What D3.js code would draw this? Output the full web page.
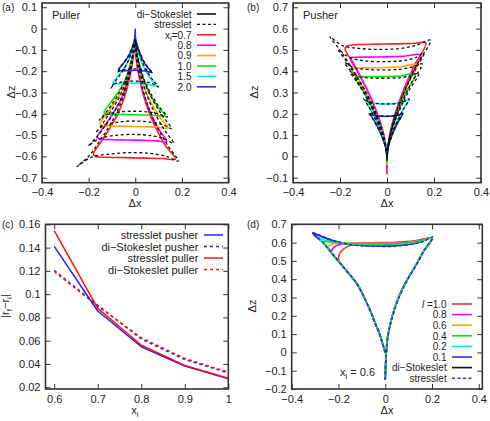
<!DOCTYPE html>
<html><head><meta charset="utf-8">
<script src="https://cdn.jsdelivr.net/npm/d3@7"></script>
<style>body{margin:0;background:#fff} svg{display:block} text{font-family:"Liberation Sans",Arial,Helvetica,sans-serif;fill:#222}</style>
</head><body><svg id="c" width="490" height="421"></svg>
<script>
// ---------- tick values / labels ----------
const xTicksTraj = [-0.4,-0.2,0,0.2,0.4];
const xTickLabelsTraj = ["\u22120.4","\u22120.2","0","0.2","0.4"];
const aYTicks = [0.1,0,-0.1,-0.2,-0.3,-0.4,-0.5,-0.6,-0.7];
const aYTickLabels = ["0.1","0","\u22120.1","\u22120.2","\u22120.3","\u22120.4","\u22120.5","\u22120.6","\u22120.7"];
const bYTicks = [0.7,0.6,0.5,0.4,0.3,0.2,0.1,0,-0.1];
const bYTickLabels = ["0.7","0.6","0.5","0.4","0.3","0.2","0.1","0","\u22120.1"];
const cXTicks = [0.6,0.7,0.8,0.9,1.0];
const cXTickLabels = ["0.6","0.7","0.8","0.9","1"];
const cYTicks = [0.02,0.04,0.06,0.08,0.1,0.12,0.14,0.16];
const cYTickLabels = ["0.02","0.04","0.06","0.08","0.1","0.12","0.14","0.16"];
const dYTicks = [0.7,0.6,0.5,0.4,0.3,0.2,0.1,0,-0.1,-0.2];
const dYTickLabels = ["0.7","0.6","0.5","0.4","0.3","0.2","0.1","0","\u22120.1","\u22120.2"];

// ---------- categories ----------
const xiLabels = ["0.7","0.8","0.9","1.0","1.5","2.0"];
const xiColors = ["#ff2020","#ff00ff","#ffa500","#10e010","#00eeee","#2a2aff"];
const lLabels = ["1.0","0.8","0.6","0.4","0.2","0.1"];
const lColors = ["#ff3030","#ff00ff","#ffa500","#10e010","#00eeee","#2a2aff"];

// ---------- panel (a): puller trajectories [dx, dz] ----------
const aSolid = [
 [[0,-0.04],[-0.002,-0.07],[-0.008,-0.13],[-0.02,-0.21],[-0.04,-0.30],[-0.07,-0.39],[-0.105,-0.46],[-0.14,-0.52],[-0.168,-0.565],[-0.18,-0.588],[-0.17,-0.6],[-0.12,-0.604],[-0.04,-0.606],[0.05,-0.608],[0.12,-0.61],[0.172,-0.613],[0.13,-0.55],[0.09,-0.47],[0.058,-0.39],[0.032,-0.30],[0.014,-0.21],[0.004,-0.14],[0,-0.088]],
 [[0,-0.04],[-0.002,-0.065],[-0.007,-0.112],[-0.018,-0.181],[-0.036,-0.259],[-0.063,-0.337],[-0.095,-0.397],[-0.127,-0.449],[-0.152,-0.488],[-0.163,-0.507],[-0.154,-0.518],[-0.109,-0.521],[-0.036,-0.523],[0.04,-0.525],[0.094,-0.527],[0.135,-0.53],[0.102,-0.475],[0.071,-0.41],[0.046,-0.34],[0.025,-0.265],[0.011,-0.19],[0.003,-0.12],[0,-0.056]],
 [[0,-0.04],[-0.002,-0.06],[-0.007,-0.098],[-0.017,-0.159],[-0.034,-0.227],[-0.059,-0.295],[-0.089,-0.348],[-0.118,-0.394],[-0.142,-0.428],[-0.152,-0.445],[-0.144,-0.454],[-0.1,-0.457],[-0.03,-0.459],[0.04,-0.461],[0.1,-0.463],[0.14,-0.466],[0.106,-0.418],[0.074,-0.36],[0.047,-0.3],[0.026,-0.232],[0.011,-0.165],[0.003,-0.105],[0,-0.045]],
 [[0,-0.04],[-0.001,-0.055],[-0.006,-0.087],[-0.015,-0.14],[-0.03,-0.2],[-0.052,-0.26],[-0.078,-0.306],[-0.104,-0.346],[-0.125,-0.376],[-0.134,-0.392],[-0.127,-0.4],[-0.09,-0.402],[-0.03,-0.404],[0.04,-0.406],[0.09,-0.408],[0.128,-0.41],[0.097,-0.368],[0.068,-0.318],[0.043,-0.262],[0.024,-0.2],[0.01,-0.14],[0.003,-0.085],[0,-0.045]],
 [[0,-0.03],[-0.001,-0.045],[-0.004,-0.065],[-0.011,-0.095],[-0.021,-0.129],[-0.037,-0.168],[-0.056,-0.198],[-0.074,-0.224],[-0.089,-0.243],[-0.095,-0.253],[-0.09,-0.258],[-0.05,-0.257],[0,-0.256],[0.05,-0.26],[0.092,-0.27],[0.07,-0.24],[0.048,-0.205],[0.03,-0.165],[0.016,-0.12],[0.007,-0.08],[0.002,-0.05],[0,-0.035]],
 [[0,0],[-0.001,-0.03],[-0.003,-0.05],[-0.008,-0.072],[-0.016,-0.098],[-0.028,-0.128],[-0.042,-0.151],[-0.056,-0.17],[-0.067,-0.185],[-0.072,-0.193],[-0.068,-0.197],[-0.03,-0.197],[0,-0.196],[0.04,-0.199],[0.07,-0.205],[0.053,-0.183],[0.036,-0.156],[0.023,-0.125],[0.012,-0.091],[0.005,-0.065],[0.001,-0.045],[0,-0.01]]
];
const aDashed = [
 [[0,-0.05],[-0.003,-0.08],[-0.009,-0.13],[-0.022,-0.21],[-0.045,-0.30],[-0.078,-0.39],[-0.118,-0.47],[-0.16,-0.54],[-0.2,-0.6],[-0.25,-0.648],[-0.19,-0.605],[-0.1,-0.588],[0,-0.582],[0.08,-0.588],[0.14,-0.602],[0.185,-0.622],[0.14,-0.55],[0.098,-0.47],[0.064,-0.39],[0.036,-0.30],[0.016,-0.21],[0.005,-0.14],[0,-0.09]],
 [[0,-0.05],[-0.003,-0.075],[-0.008,-0.11],[-0.019,-0.18],[-0.038,-0.26],[-0.066,-0.34],[-0.1,-0.41],[-0.135,-0.465],[-0.17,-0.515],[-0.201,-0.551],[-0.16,-0.52],[-0.09,-0.502],[0,-0.497],[0.07,-0.503],[0.125,-0.518],[0.164,-0.538],[0.125,-0.475],[0.088,-0.405],[0.056,-0.33],[0.031,-0.25],[0.013,-0.17],[0.004,-0.11],[0,-0.062]],
 [[0,-0.05],[-0.003,-0.07],[-0.007,-0.1],[-0.017,-0.16],[-0.034,-0.23],[-0.058,-0.3],[-0.088,-0.36],[-0.118,-0.41],[-0.145,-0.455],[-0.17,-0.49],[-0.14,-0.458],[-0.08,-0.44],[0,-0.434],[0.07,-0.44],[0.12,-0.452],[0.157,-0.47],[0.12,-0.415],[0.085,-0.355],[0.054,-0.29],[0.03,-0.22],[0.013,-0.15],[0.004,-0.095],[0,-0.055]],
 [[0,-0.05],[-0.002,-0.065],[-0.006,-0.09],[-0.015,-0.145],[-0.03,-0.205],[-0.052,-0.265],[-0.078,-0.318],[-0.106,-0.365],[-0.132,-0.402],[-0.155,-0.43],[-0.125,-0.405],[-0.07,-0.392],[0,-0.388],[0.06,-0.392],[0.105,-0.402],[0.138,-0.415],[0.105,-0.37],[0.073,-0.318],[0.046,-0.26],[0.025,-0.195],[0.011,-0.135],[0.003,-0.08],[0,-0.055]],
 [[0,-0.05],[-0.002,-0.06],[-0.005,-0.07],[-0.011,-0.095],[-0.022,-0.13],[-0.038,-0.17],[-0.057,-0.205],[-0.077,-0.235],[-0.092,-0.258],[-0.105,-0.28],[-0.085,-0.258],[-0.045,-0.249],[0,-0.247],[0.045,-0.25],[0.075,-0.259],[0.1,-0.274],[0.077,-0.243],[0.053,-0.205],[0.033,-0.163],[0.018,-0.12],[0.008,-0.085],[0.002,-0.065],[0,-0.055]],
 [[0,-0.05],[-0.002,-0.058],[-0.004,-0.065],[-0.009,-0.075],[-0.017,-0.098],[-0.03,-0.128],[-0.045,-0.153],[-0.06,-0.175],[-0.07,-0.192],[-0.078,-0.205],[-0.06,-0.195],[-0.03,-0.19],[0,-0.189],[0.035,-0.192],[0.058,-0.198],[0.075,-0.208],[0.057,-0.185],[0.039,-0.157],[0.024,-0.125],[0.013,-0.095],[0.005,-0.075],[0.001,-0.062],[0,-0.055]]
];

// ---------- panel (b): pusher trajectories ----------
const bSolid = [
 [[0,0],[-0.0135,0.1],[-0.041,0.2],[-0.079,0.3],[-0.125,0.4],[-0.15,0.45],[-0.176,0.495],[-0.178,0.51],[-0.165,0.52],[-0.12,0.525],[-0.04,0.527],[0.04,0.528],[0.11,0.53],[0.165,0.532],[0.116,0.426],[0.073,0.319],[0.038,0.213],[0.0125,0.106],[0,0],[0,-0.085]],
 [[0,0],[-0.012,0.092],[-0.036,0.183],[-0.069,0.275],[-0.11,0.366],[-0.133,0.412],[-0.155,0.452],[-0.156,0.462],[-0.14,0.465],[-0.07,0.466],[0,0.467],[0.07,0.47],[0.143,0.476],[0.1,0.381],[0.063,0.286],[0.033,0.19],[0.011,0.095],[0,0],[0,-0.055]],
 [[0,0],[-0.011,0.082],[-0.035,0.164],[-0.066,0.246],[-0.105,0.328],[-0.127,0.369],[-0.148,0.405],[-0.147,0.413],[-0.13,0.415],[-0.06,0.416],[0,0.417],[0.06,0.421],[0.128,0.43],[0.09,0.344],[0.057,0.258],[0.03,0.172],[0.01,0.086],[0,0],[0,-0.04]],
 [[0,0],[-0.01,0.074],[-0.031,0.147],[-0.06,0.221],[-0.095,0.294],[-0.115,0.331],[-0.134,0.364],[-0.133,0.372],[-0.115,0.374],[-0.05,0.374],[0,0.375],[0.06,0.378],[0.121,0.387],[0.085,0.31],[0.053,0.232],[0.028,0.155],[0.009,0.077],[0,0],[0,-0.03]],
 [[0,0],[-0.007,0.053],[-0.021,0.106],[-0.041,0.159],[-0.065,0.212],[-0.079,0.238],[-0.093,0.265],[-0.075,0.254],[-0.035,0.247],[0,0.246],[0.04,0.249],[0.07,0.256],[0.093,0.267],[0.065,0.214],[0.041,0.16],[0.021,0.107],[0.007,0.053],[0,0],[0,-0.012]],
 [[0,0],[-0.0055,0.04],[-0.017,0.08],[-0.032,0.12],[-0.05,0.16],[-0.061,0.18],[-0.072,0.2],[-0.055,0.193],[-0.025,0.189],[0,0.188],[0.03,0.19],[0.05,0.194],[0.066,0.2],[0.046,0.16],[0.029,0.12],[0.015,0.08],[0.005,0.04],[0,0],[0,-0.006]]
];
const bDashed = [
 [[0,0],[-0.018,0.112],[-0.056,0.225],[-0.107,0.337],[-0.17,0.45],[-0.205,0.506],[-0.243,0.562],[-0.19,0.52],[-0.12,0.507],[-0.04,0.502],[0.05,0.506],[0.12,0.52],[0.185,0.545],[0.13,0.436],[0.082,0.327],[0.043,0.218],[0.014,0.109],[0,0.01],[0,-0.02]],
 [[0,0],[-0.016,0.1],[-0.048,0.2],[-0.091,0.3],[-0.145,0.4],[-0.175,0.45],[-0.207,0.5],[-0.16,0.465],[-0.1,0.449],[0,0.445],[0.07,0.45],[0.12,0.463],[0.157,0.484],[0.11,0.387],[0.069,0.29],[0.036,0.194],[0.012,0.097],[0,0.01],[0,-0.02]],
 [[0,0],[-0.014,0.088],[-0.042,0.176],[-0.08,0.264],[-0.126,0.352],[-0.152,0.396],[-0.18,0.44],[-0.14,0.416],[-0.08,0.408],[0,0.406],[0.06,0.41],[0.11,0.42],[0.15,0.434],[0.105,0.347],[0.066,0.26],[0.035,0.174],[0.011,0.087],[0,0.01],[0,-0.02]],
 [[0,0],[-0.012,0.08],[-0.036,0.159],[-0.07,0.239],[-0.11,0.318],[-0.134,0.358],[-0.158,0.398],[-0.12,0.375],[-0.07,0.368],[0,0.367],[0.06,0.37],[0.1,0.378],[0.135,0.39],[0.095,0.312],[0.06,0.234],[0.031,0.156],[0.01,0.078],[0,0.01],[0,-0.02]],
 [[0,0],[-0.0076,0.055],[-0.023,0.109],[-0.044,0.164],[-0.07,0.218],[-0.085,0.246],[-0.1,0.273],[-0.08,0.257],[-0.04,0.248],[0,0.246],[0.04,0.248],[0.07,0.256],[0.095,0.27],[0.067,0.216],[0.042,0.162],[0.022,0.108],[0.007,0.054],[0,0],[0,-0.012]],
 [[0,0],[-0.006,0.041],[-0.018,0.082],[-0.034,0.123],[-0.055,0.164],[-0.066,0.185],[-0.078,0.205],[-0.06,0.195],[-0.03,0.19],[0,0.189],[0.03,0.19],[0.052,0.195],[0.068,0.203],[0.048,0.162],[0.03,0.122],[0.016,0.081],[0.005,0.04],[0,0],[0,-0.006]]
];

// ---------- panel (c): net displacement ----------
const cX = [0.6,0.7,0.8,0.9,1.0];
const cStressPusher  = [0.141,0.0855,0.0548,0.0382,0.0273];
const cDiStokesPusher = [0.1204,0.0905,0.0615,0.0438,0.0323];
const cStressPuller  = [0.1545,0.0878,0.0562,0.0388,0.0277];
const cDiStokesPuller = [0.1195,0.0897,0.0625,0.0447,0.033];

// ---------- panel (d): x_i = 0.6, different l ----------
const dSolid = [
 [[0,0],[-0.012,0.05],[-0.024,0.1],[-0.04,0.15],[-0.064,0.228],[-0.09,0.3],[-0.121,0.375],[-0.155,0.43],[-0.191,0.485],[-0.2,0.51],[-0.195,0.54],[-0.178,0.565],[-0.15,0.585],[-0.1,0.597],[-0.03,0.6],[0.05,0.602],[0.12,0.608],[0.2,0.625],[0.165,0.555],[0.135,0.485],[0.092,0.393],[0.057,0.301],[0.028,0.19],[0.01,0.081],[0.003,-0.03],[0,-0.15]],
 [[0,0],[-0.012,0.05],[-0.024,0.1],[-0.04,0.15],[-0.064,0.228],[-0.09,0.3],[-0.121,0.375],[-0.155,0.43],[-0.191,0.485],[-0.23,0.545],[-0.226,0.565],[-0.21,0.583],[-0.18,0.593],[-0.12,0.597],[-0.03,0.598],[0.06,0.6],[0.13,0.607],[0.2,0.625],[0.165,0.555],[0.135,0.485],[0.092,0.393],[0.057,0.301],[0.028,0.19],[0.01,0.081],[0.003,-0.03],[0,-0.15]],
 [[0,0],[-0.012,0.05],[-0.024,0.1],[-0.04,0.15],[-0.064,0.228],[-0.09,0.3],[-0.121,0.375],[-0.155,0.43],[-0.191,0.485],[-0.23,0.545],[-0.246,0.57],[-0.24,0.585],[-0.22,0.595],[-0.17,0.597],[-0.1,0.596],[0,0.596],[0.08,0.598],[0.14,0.607],[0.2,0.625],[0.165,0.555],[0.135,0.485],[0.092,0.393],[0.057,0.301],[0.028,0.19],[0.01,0.081],[0.003,-0.03],[0,-0.15]],
 [[0,0],[-0.012,0.05],[-0.024,0.1],[-0.04,0.15],[-0.064,0.228],[-0.09,0.3],[-0.121,0.375],[-0.155,0.43],[-0.191,0.485],[-0.23,0.545],[-0.262,0.595],[-0.258,0.606],[-0.235,0.603],[-0.18,0.597],[-0.1,0.594],[0,0.593],[0.08,0.596],[0.14,0.606],[0.2,0.625],[0.165,0.555],[0.135,0.485],[0.092,0.393],[0.057,0.301],[0.028,0.19],[0.01,0.081],[0.003,-0.03],[0,-0.15]],
 [[0,0],[-0.012,0.05],[-0.024,0.1],[-0.04,0.15],[-0.064,0.228],[-0.09,0.3],[-0.121,0.375],[-0.155,0.43],[-0.191,0.485],[-0.23,0.545],[-0.262,0.595],[-0.285,0.626],[-0.265,0.615],[-0.21,0.6],[-0.14,0.592],[-0.06,0.589],[0.03,0.59],[0.1,0.597],[0.155,0.608],[0.2,0.625],[0.165,0.555],[0.135,0.485],[0.092,0.393],[0.057,0.301],[0.028,0.19],[0.01,0.081],[0.003,-0.03],[0,-0.15]],
 [[0,0],[-0.012,0.05],[-0.024,0.1],[-0.04,0.15],[-0.064,0.228],[-0.09,0.3],[-0.121,0.375],[-0.155,0.43],[-0.191,0.485],[-0.23,0.545],[-0.262,0.595],[-0.31,0.652],[-0.27,0.632],[-0.22,0.608],[-0.16,0.592],[-0.09,0.584],[0,0.582],[0.08,0.587],[0.14,0.6],[0.2,0.625],[0.165,0.555],[0.135,0.485],[0.092,0.393],[0.057,0.301],[0.028,0.19],[0.01,0.081],[0.003,-0.03],[0,-0.15]]
];
const dStresslet = [[0,0],[-0.012,0.05],[-0.024,0.1],[-0.04,0.15],[-0.064,0.228],[-0.09,0.3],[-0.121,0.375],[-0.155,0.43],[-0.191,0.485],[-0.23,0.545],[-0.262,0.595],[-0.312,0.654],[-0.248,0.623],[-0.177,0.595],[-0.106,0.583],[-0.035,0.58],[0.035,0.58],[0.106,0.59],[0.16,0.605],[0.206,0.632],[0.168,0.56],[0.138,0.49],[0.095,0.395],[0.059,0.3],[0.03,0.19],[0.011,0.08],[0.003,-0.03],[0,-0.15]];
const dDiStokeslet = [[0,0],[-0.012,0.05],[-0.024,0.1],[-0.04,0.15],[-0.064,0.228],[-0.09,0.3],[-0.121,0.375],[-0.155,0.43],[-0.191,0.485],[-0.23,0.545],[-0.262,0.595],[-0.31,0.652],[-0.27,0.632],[-0.22,0.608],[-0.16,0.592],[-0.09,0.584],[0,0.582],[0.08,0.587],[0.14,0.6],[0.2,0.625],[0.165,0.555],[0.135,0.485],[0.092,0.393],[0.057,0.301],[0.028,0.19],[0.01,0.081],[0.003,-0.03],[0,-0.15]];

// ================= drawing =================
const svg = d3.select('#c');
const FS = 11;
const LFS = 10;
const frameColor = '#333';
let clipId = 0;

function panel(cfg){
  const x = d3.scaleLinear().domain(cfg.xd).range([cfg.l, cfg.r]);
  const y = d3.scaleLinear().domain(cfg.yd).range([cfg.b, cfg.t]);
  const g = svg.append('g');
  const id = 'clip' + (clipId++);
  svg.append('clipPath').attr('id', id).append('rect')
    .attr('x', cfg.l).attr('y', cfg.t).attr('width', cfg.r-cfg.l).attr('height', cfg.b-cfg.t);
  const tk = 5;
  const fx = (vals, labs) => (d => labs[vals.indexOf(d)]);
  const ax = (gen, tr, labels) => {
    const a = g.append('g').attr('transform', tr).call(gen);
    a.select('.domain').remove();
    a.selectAll('line').attr('stroke', frameColor).attr('stroke-width', 1);
    a.selectAll('text').attr('font-size', FS).attr('fill', '#222')
      .attr('font-family', '"Liberation Sans",Arial,sans-serif');
    if (!labels) a.selectAll('text').remove();
  };
  ax(d3.axisBottom(x).tickValues(cfg.xt).tickFormat(fx(cfg.xt, cfg.xl)).tickSizeInner(-tk).tickSizeOuter(0).tickPadding(6), `translate(0,${cfg.b})`, true);
  ax(d3.axisTop(x).tickValues(cfg.xt).tickSizeInner(-tk).tickSizeOuter(0), `translate(0,${cfg.t})`, false);
  ax(d3.axisLeft(y).tickValues(cfg.yt).tickFormat(fx(cfg.yt, cfg.yl)).tickSizeInner(-tk).tickSizeOuter(0).tickPadding(5), `translate(${cfg.l},0)`, true);
  ax(d3.axisRight(y).tickValues(cfg.yt).tickSizeInner(-tk).tickSizeOuter(0), `translate(${cfg.r},0)`, false);
  const plot = svg.append('g').attr('clip-path', `url(#${id})`);
  const frame = () => svg.append('rect').attr('x', cfg.l).attr('y', cfg.t)
    .attr('width', cfg.r-cfg.l).attr('height', cfg.b-cfg.t)
    .attr('fill', 'none').attr('stroke', frameColor).attr('stroke-width', 1.6);
  return {x, y, plot, frame};
}

function traj(p, data, color, width, dash, curve){
  const line = d3.line().x(d => p.x(d[0])).y(d => p.y(d[1]))
    .curve(curve || d3.curveCatmullRom.alpha(0.5));
  const path = p.plot.append('path').attr('d', line(data))
    .attr('fill', 'none').attr('stroke', color).attr('stroke-width', width)
    .attr('stroke-linejoin', 'round');
  if (dash) path.attr('stroke-dasharray', dash);
  return path;
}

function txt(x, y, opts={}){
  const t = svg.append('text').attr('x', x).attr('y', y).attr('font-size', opts.fs || FS)
    .attr('text-anchor', opts.anchor || 'start');
  if (opts.rot) t.attr('transform', `rotate(${opts.rot},${x},${y})`);
  return t;
}
function xiText(t, val){
  t.append('tspan').text('x');
  t.append('tspan').attr('dy', 2.5).attr('font-size', 7.5).text('i');
  t.append('tspan').attr('dy', -2.5).text(val);
}
function legendLine(xs0, xs1, y, color, dash, width){
  svg.append('line').attr('x1', xs0).attr('x2', xs1).attr('y1', y).attr('y2', y)
    .attr('stroke', color).attr('stroke-width', width || 1.6)
    .attr('stroke-dasharray', dash || null);
}

// ---------- (a) ----------
const pa = panel({l:42, r:228.5, t:3, b:182.7, xd:[-0.4,0.4], yd:[-0.7235,0.12],
  xt:xTicksTraj, xl:xTickLabelsTraj, yt:aYTicks, yl:aYTickLabels});
aSolid.forEach((c,i) => traj(pa, c, xiColors[i], 1.6));
aDashed.forEach(c => traj(pa, c, '#111', 1.3, '3,2.5'));
pa.frame();
txt(2, 11, {fs:10}).text('(a)');
txt(52, 19).text('Puller');
txt(135, 207, {anchor:'middle'}).text('\u0394x');
txt(15, 92, {anchor:'middle', rot:-90}).text('\u0394z');
{
  const rows = [14, 24.4, 34.8, 45.2, 55.6, 66, 76.4, 86.8];
  const tx = 191.5, s0 = 197, s1 = 216;
  txt(tx, rows[0]+3.8, {anchor:'end', fs:LFS}).text('di\u2212Stokeslet');
  legendLine(s0, s1, rows[0], '#111');
  txt(tx, rows[1]+3.8, {anchor:'end', fs:LFS}).text('stresslet');
  legendLine(s0, s1, rows[1], '#111', '3,2.5', 1.3);
  xiLabels.forEach((lab, i) => {
    const t = txt(tx, rows[i+2]+3.8, {anchor:'end', fs:LFS});
    if (i === 0) xiText(t, '=' + lab); else t.text(lab);
    legendLine(s0, s1, rows[i+2], xiColors[i]);
  });
}

// ---------- (b) ----------
const pb = panel({l:293, r:481, t:3, b:182.7, xd:[-0.4,0.4], yd:[-0.1235,0.72],
  xt:xTicksTraj, xl:xTickLabelsTraj, yt:bYTicks, yl:bYTickLabels});
bSolid.forEach((c,i) => traj(pb, c, xiColors[i], 1.6));
bDashed.forEach(c => traj(pb, c, '#111', 1.3, '3,2.5'));
pb.frame();
txt(247, 11, {fs:10}).text('(b)');
txt(303, 19).text('Pusher');
txt(387, 207, {anchor:'middle'}).text('\u0394x');
txt(258, 92, {anchor:'middle', rot:-90}).text('\u0394z');

// ---------- (c) ----------
const pc = panel({l:45.5, r:228.3, t:224.3, b:389, xd:[0.58,1.0], yd:[0.0185,0.16],
  xt:cXTicks, xl:cXTickLabels, yt:cYTicks, yl:cYTickLabels});
const cl = (ys) => cX.map((v,i) => [v, ys[i]]);
traj(pc, cl(cDiStokesPusher), '#2020ff', 1.5, '3,3', d3.curveLinear);
traj(pc, cl(cDiStokesPuller), '#ff1010', 1.5, '3,3', d3.curveLinear);
traj(pc, cl(cStressPusher), '#2020ff', 1.5, null, d3.curveLinear);
traj(pc, cl(cStressPuller), '#ff1010', 1.5, null, d3.curveLinear);
pc.frame();
txt(2, 228, {fs:10}).text('(c)');
{
  const t = txt(135, 414, {anchor:'middle'});
  t.append('tspan').text('x');
  t.append('tspan').attr('dy', 3).attr('font-size', 8).text('i');
  const ty = txt(9, 306, {anchor:'middle', rot:-90});
  ty.append('tspan').text('|r');
  ty.append('tspan').attr('dy', 3).attr('font-size', 8).text('f');
  ty.append('tspan').attr('dy', -3).text('\u2212r');
  ty.append('tspan').attr('dy', 3).attr('font-size', 8).text('i');
  ty.append('tspan').attr('dy', -3).text('|');
  const rows = [235, 246.5, 258, 269.5];
  const tx = 198.3, s0 = 204, s1 = 223;
  const items = [['stresslet pusher','#2020ff',null],['di\u2212Stokeslet pusher','#2020ff','3,3'],
                 ['stresslet puller','#ff1010',null],['di\u2212Stokeslet puller','#ff1010','3,3']];
  items.forEach((it,i) => {
    txt(tx, rows[i]+4, {anchor:'end'}).text(it[0]);
    legendLine(s0, s1, rows[i], it[1], it[2], 1.5);
  });
}

// ---------- (d) ----------
const pd = panel({l:291.7, r:482.3, t:224.3, b:389, xd:[-0.4,0.415], yd:[-0.2,0.7],
  xt:xTicksTraj, xl:xTickLabelsTraj, yt:dYTicks, yl:dYTickLabels});
traj(pd, dDiStokeslet, '#111', 1.6);
[0,1,2,5,4,3].forEach(i => traj(pd, dSolid[i], lColors[i], 1.6));
traj(pd, dStresslet, '#2a2aff', 1.6, '3,2.5');
pd.frame();
txt(247, 228, {fs:10}).text('(d)');
txt(387, 414, {anchor:'middle'}).text('\u0394x');
txt(256, 306, {anchor:'middle', rot:-90}).text('\u0394z');
{
  const t = txt(340, 376);
  t.append('tspan').text('x');
  t.append('tspan').attr('dy', 3).attr('font-size', 8).text('i');
  t.append('tspan').attr('dy', -3).text(' = 0.6');
  const rows = [304, 314.6, 325.2, 335.8, 346.4, 357, 367.6, 378.2];
  const tx = 446.7, s0 = 452, s1 = 472;
  lLabels.forEach((lab,i) => {
    const tt = txt(tx, rows[i]+3.8, {anchor:'end', fs:LFS});
    if (i === 0) { tt.append('tspan').attr('font-style','italic').text('l'); tt.append('tspan').text(' =' + lab); }
    else tt.text(lab);
    legendLine(s0, s1, rows[i], lColors[i]);
  });
  txt(tx, rows[6]+3.8, {anchor:'end', fs:LFS}).text('di\u2212Stokeslet');
  legendLine(s0, s1, rows[6], '#111');
  txt(tx, rows[7]+3.8, {anchor:'end', fs:LFS}).text('stresslet');
  legendLine(s0, s1, rows[7], '#2a2aff', '3,2.5');
}
</script></body></html>
